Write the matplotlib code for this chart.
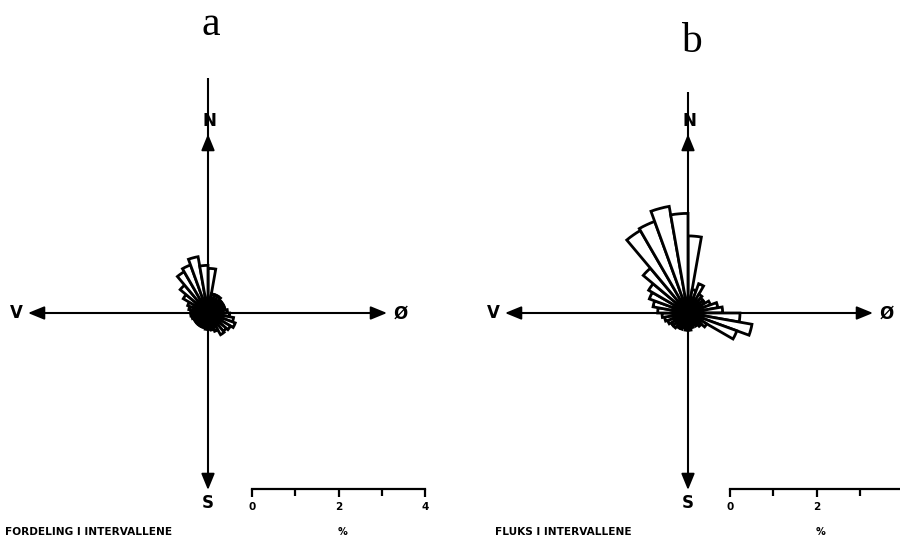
import numpy as np
import matplotlib
matplotlib.use('Agg')
import matplotlib.pyplot as plt

# sector centres (degrees clockwise from north), 10 degree sectors
sector_deg = [5, 15, 25, 35, 45, 55, 65, 75, 85, 95, 105, 115,
              125, 135, 145, 155, 165, 175, 185, 195, 205, 215, 225, 235,
              245, 255, 265, 275, 285, 295, 305, 315, 325, 335, 345, 355]

# a: fordeling (%)
fordeling = [1.03, 0.45, 0.45, 0.45, 0.40, 0.40, 0.40, 0.40, 0.45, 0.50, 0.60, 0.67,
             0.60, 0.55, 0.58, 0.45, 0.40, 0.38, 0.38, 0.35, 0.35, 0.35, 0.35, 0.35,
             0.35, 0.38, 0.40, 0.40, 0.45, 0.50, 0.66, 0.84, 1.10, 1.18, 1.32, 1.10]

# b: fluks (%)
fluks = [1.78, 0.55, 0.72, 0.50, 0.45, 0.45, 0.55, 0.70, 0.80, 1.20, 1.50, 1.20,
         0.50, 0.40, 0.35, 0.30, 0.35, 0.40, 0.40, 0.35, 0.40, 0.40, 0.45, 0.45,
         0.50, 0.55, 0.60, 0.70, 0.82, 0.95, 1.05, 1.35, 2.20, 2.25, 2.50, 2.30]

scale_ticks = [0, 2, 4]
scale_minor = [1, 3]

W, H = 900, 541
PX_PER_PCT = 43.3
RMAX = 3.0

fig = plt.figure(figsize=(9, 5.41), dpi=100)
fig.patch.set_facecolor('white')

over = fig.add_axes([0, 0, 1, 1])
over.set_xlim(0, W)
over.set_ylim(H, 0)
over.axis('off')

bold = dict(family='DejaVu Sans', fontweight='bold', color='black')


def head(ax, tip, base):
    ax.annotate('', xy=tip, xytext=base,
                arrowprops=dict(arrowstyle='-|>,head_length=1.1,head_width=0.45',
                                lw=1.4, color='black', shrinkA=0, shrinkB=0,
                                mutation_scale=9))


def panel(cx, cy, vals, letter, letter_y, ytop, xleft, xright, caption, cap_x, sx):
    # compass cross
    over.plot([cx, cx], [ytop, 486], color='black', lw=1.5, solid_capstyle='butt')
    over.plot([xleft + 4, xright - 4], [cy, cy], color='black', lw=1.5,
              solid_capstyle='butt')
    head(over, (cx, 134), (cx, 150))
    head(over, (cx, 490), (cx, 474))
    head(over, (xleft - 2, cy), (xleft + 14, cy))
    head(over, (xright + 2, cy), (xright - 14, cy))
    over.text(cx + 1, 121, 'N', ha='center', va='center', fontsize=12, **bold)
    over.text(cx, 503, 'S', ha='center', va='center', fontsize=12, **bold)
    over.text(xleft - 14, cy, 'V', ha='center', va='center', fontsize=12, **bold)
    over.text(xright + 16, cy + 1, 'Ø', ha='center', va='center', fontsize=12, **bold)
    over.text(cx + 3, letter_y, letter, ha='center', va='center', fontsize=30,
              family='Liberation Serif', color='black')
    over.text(cap_x, 532, caption, ha='left', va='center', fontsize=7.6, **bold)
    over.text(sx + 2 * PX_PER_PCT + 4, 532, '%', ha='center', va='center',
              fontsize=7, **bold)

    # rose
    R = RMAX * PX_PER_PCT
    ax = fig.add_axes([(cx - R) / W, (H - cy - R) / H, 2 * R / W, 2 * R / H],
                      projection='polar')
    ax.set_theta_zero_location('N')
    ax.set_theta_direction(-1)
    ax.bar(np.radians(sector_deg), vals, width=np.radians(10), bottom=0,
           facecolor='white', edgecolor='black', linewidth=2.0, align='center')
    ax.set_ylim(0, RMAX)
    ax.axis('off')

    # scale bar
    sa = fig.add_axes([sx / W, (H - 489) / H, 4 * PX_PER_PCT / W, 0.0001])
    sa.set_xlim(0, 4)
    for s in ['top', 'left', 'right']:
        sa.spines[s].set_visible(False)
    sa.spines['bottom'].set_linewidth(1.6)
    sa.set_yticks([])
    sa.set_xticks(scale_ticks)
    sa.set_xticks(scale_minor, minor=True)
    sa.set_xticklabels([str(t) for t in scale_ticks], fontsize=7.5,
                       fontweight='bold')
    sa.tick_params(axis='x', which='both', direction='out', width=1.6, pad=3)
    sa.tick_params(axis='x', which='major', length=6)
    sa.tick_params(axis='x', which='minor', length=5)
    sa.patch.set_alpha(0)


panel(208, 313, fordeling, 'a', 25, 78, 30, 385,
      'FORDELING I INTERVALLENE', 5, 252)
panel(688, 313, fluks, 'b', 42, 92, 507, 871,
      'FLUKS I INTERVALLENE', 495, 730)

fig.savefig('out.png', dpi=100, facecolor='white')
